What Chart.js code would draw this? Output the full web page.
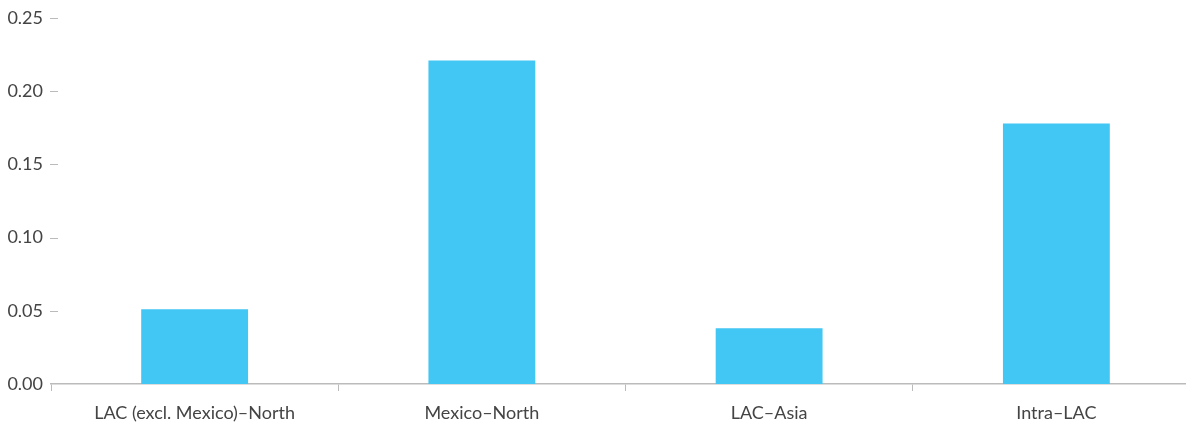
<!DOCTYPE html>
<html>
<head>
<meta charset="utf-8">
<script src="https://cdn.jsdelivr.net/npm/chart.js@4/dist/chart.umd.min.js"></script>
<style>
  html, body { margin: 0; padding: 0; background: #fff; overflow: hidden; }
  #wrap { width: 1200px; height: 427px; }
</style>
</head>
<body>
<div id="wrap"><canvas id="chart"></canvas></div>
<script>
const categories = ["LAC (excl. Mexico)\u2013North", "Mexico\u2013North", "LAC\u2013Asia", "Intra\u2013LAC"];
const values = [0.051, 0.221, 0.038, 0.178];
const yTicks = [0, 0.05, 0.10, 0.15, 0.20, 0.25];

// short dashes to the right of the y labels
const yDashes = {
  id: "yDashes",
  afterDraw(chart) {
    const ctx = chart.ctx;
    const y = chart.scales.y;
    const left = chart.chartArea.left;
    ctx.save();
    ctx.strokeStyle = "#bbbbbb";
    ctx.lineWidth = 1;
    y.ticks.forEach((t) => {
      if (t.value === 0) return;
      const py = Math.round(y.getPixelForValue(t.value)) + 0.5;
      ctx.beginPath();
      ctx.moveTo(left - 1, py);
      ctx.lineTo(left + 7, py);
      ctx.stroke();
    });
    ctx.restore();
  },
};

new Chart(document.getElementById("chart"), {
  type: "bar",
  data: {
    labels: categories,
    datasets: [
      {
        data: values,
        backgroundColor: "#42c6f4",
        barPercentage: 0.372,
        categoryPercentage: 1,
      },
    ],
  },
  options: {
    responsive: true,
    maintainAspectRatio: false,
    animation: false,
    layout: { padding: { top: 18, right: 0, left: 0, bottom: 0 } },
    plugins: { legend: { display: false }, tooltip: { enabled: false } },
    scales: {
      x: {
        afterFit(scale) { scale.height = 43; },
        grid: { offset: true, drawOnChartArea: false, tickLength: 7, color: "#bbbbbb" },
        border: { color: "#bbbbbb", width: 1.5 },
        ticks: { color: "#444", font: { family: "Lato", size: 18 }, padding: 11, maxRotation: 0 },
      },
      y: {
        min: 0,
        max: 0.25,
        afterFit(scale) { scale.width = 51; },
        afterBuildTicks(scale) { scale.ticks = yTicks.map((v) => ({ value: v })); },
        grid: { display: false },
        border: { display: false },
        ticks: {
          color: "#444",
          font: { family: "Lato", size: 18 },
          padding: 0,
          callback: (v) => v.toFixed(2),
        },
      },
    },
  },
  plugins: [yDashes],
});
</script>
</body>
</html>
